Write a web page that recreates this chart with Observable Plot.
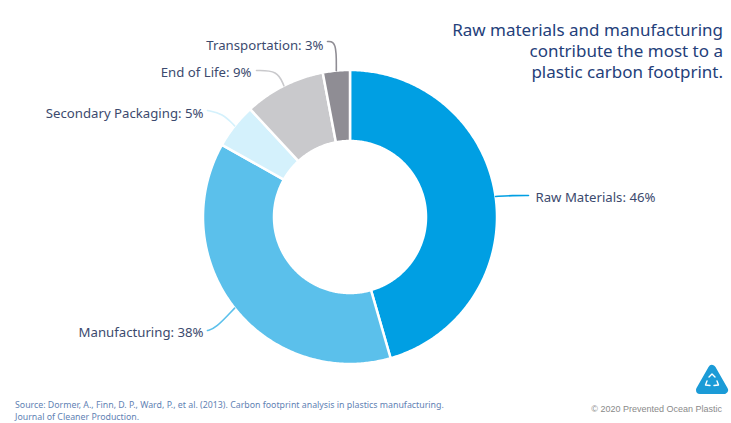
<!DOCTYPE html>
<html><head><meta charset="utf-8">
<script src="https://cdn.jsdelivr.net/npm/d3@7"></script>
<script src="https://cdn.jsdelivr.net/npm/@observablehq/plot@0.6"></script>
<style>
html,body{margin:0;padding:0;background:#fff;}
#wrap{position:relative;width:731px;height:423px;overflow:hidden;font-family:"Noto Sans",sans-serif;}
#chart{position:absolute;left:0;top:0;}
#title{position:absolute;right:8px;top:19px;text-align:right;font-size:17px;line-height:21px;color:#24407a;}
#source{position:absolute;left:15px;top:400px;font-size:8.8px;line-height:11.5px;color:#5f82b4;white-space:nowrap;}
#copy{position:absolute;right:9px;top:404px;font-size:9px;color:#8a8a8a;font-family:"Liberation Sans",Arial,sans-serif;}
#logo{position:absolute;left:695px;top:364px;}
</style></head>
<body><div id="wrap"><div id="chart"></div>
<div id="title">Raw materials and manufacturing<br>contribute the most to a<br>plastic carbon footprint.</div>
<div id="source">Source: Dormer, A., Finn, D. P., Ward, P., et al. (2013). Carbon footprint analysis in plastics manufacturing.<br>Journal of Cleaner Production.</div>
<div id="copy">© 2020 Prevented Ocean Plastic</div>
<svg id="logo" width="34" height="34" viewBox="0 0 34 34">
<path d="M17 5 L29 26 L5 26 Z" fill="#1b9bd7" stroke="#1b9bd7" stroke-width="8" stroke-linejoin="round"/>
<path d="M14 13 L17 10 L20 13 M22 17 L23.5 21 L19 21.5 M12 17 L10.5 21 L15 21.5" fill="none" stroke="#fff" stroke-width="1.4" stroke-linejoin="round" stroke-linecap="round"/>
</svg>
</div>
<script>
const categories = ["Raw Materials", "Manufacturing", "Secondary Packaging", "End of Life", "Transportation"];
const shares = [46, 38, 5, 9, 3];
const colors = ["#009fe3", "#5bc0eb", "#d4f1fc", "#c9c9cc", "#8f8d94"];

// layout
const cx = 349.5, cy = 216.5, rOuter = 147, rInner = 76;
const labelPos = [[535, 197], [203, 332], [203, 113], [251, 72], [323, 45]];
const labelSide = ["start", "end", "end", "end", "end"];
const leaderFrom = [[528, 195], [207, 330], [207, 110], [256, 70], [327, 41]];
const leaderKnee = [[512, 195], [215, 328], [222, 113], [277, 70], [336, 41]];

const total = d3.sum(shares);
const pt = (a, r) => ({x: cx + r * Math.sin(a), y: cy - r * Math.cos(a)});
let cum = 0;
const slicePts = [], leaderPts = [], labelData = [];
categories.forEach((c, i) => {
  const a0 = cum / total * 2 * Math.PI;
  cum += shares[i];
  const a1 = cum / total * 2 * Math.PI;
  const n = Math.max(4, Math.ceil((a1 - a0) / 0.01));
  const poly = [];
  for (let k = 0; k <= n; k++) poly.push(pt(a0 + (a1 - a0) * k / n, rOuter));
  for (let k = n; k >= 0; k--) poly.push(pt(a0 + (a1 - a0) * k / n, rInner));
  poly.push(poly[0]);
  poly.forEach(p => slicePts.push({...p, category: c}));
  const mid = (a0 + a1) / 2;
  const e = pt(mid, rOuter);
  leaderPts.push({x: leaderFrom[i][0], y: leaderFrom[i][1], category: c});
  leaderPts.push({x: leaderKnee[i][0], y: leaderKnee[i][1], category: c});
  leaderPts.push({x: e.x, y: e.y, category: c});
  labelData.push({x: labelPos[i][0], y: labelPos[i][1], text: `${c}: ${shares[i]}%`, side: labelSide[i]});
});

const textOpts = {x: "x", y: "y", text: "text", fill: "#3c4a6e", fontSize: 13.2, fontFamily: "Noto Sans", fontWeight: 400};
const chart = Plot.plot({
  width: 731, height: 423, margin: 0,
  x: {domain: [0, 731], range: [0, 731], axis: null},
  y: {domain: [0, 423], range: [0, 423], axis: null},
  color: {domain: categories, range: colors},
  style: {background: "transparent"},
  marks: [
    Plot.line(slicePts, {x: "x", y: "y", z: "category", fill: "category", stroke: "white", strokeWidth: 2.5, curve: "linear"}),
    Plot.line(leaderPts, {x: "x", y: "y", z: "category", stroke: "category", strokeWidth: 1.6, curve: "basis"}),
    Plot.text(labelData.filter(d => d.side === "start"), {...textOpts, textAnchor: "start"}),
    Plot.text(labelData.filter(d => d.side === "end"), {...textOpts, textAnchor: "end"})
  ]
});
document.getElementById("chart").appendChild(chart);
</script>
</body></html>
